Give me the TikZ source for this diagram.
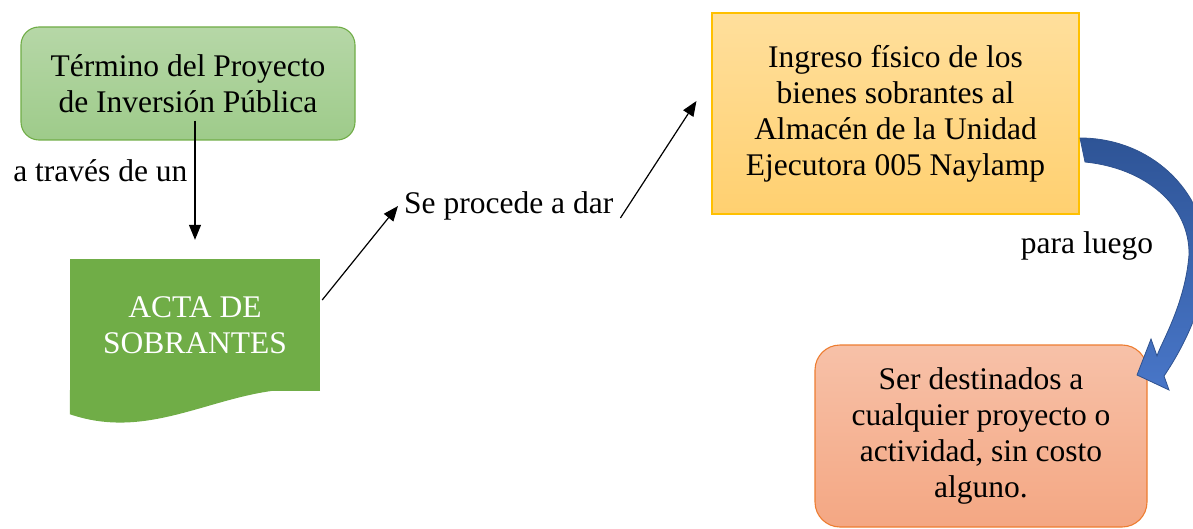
\documentclass[tikz,border=0pt]{standalone}
\usepackage{fontspec}
\setmainfont{Liberation Serif}
\usepackage{tikz}
\usetikzlibrary{arrows.meta}

\definecolor{grnA}{RGB}{182,215,167}
\definecolor{grnB}{RGB}{158,203,138}
\definecolor{grnD}{RGB}{112,173,71}
\definecolor{docgrn}{RGB}{112,173,71}
\definecolor{yelA}{RGB}{255,223,156}
\definecolor{yelB}{RGB}{255,208,112}
\definecolor{yelD}{RGB}{255,192,0}
\definecolor{salA}{RGB}{247,193,168}
\definecolor{salB}{RGB}{244,167,131}
\definecolor{salD}{RGB}{237,125,49}
\definecolor{bluA}{RGB}{46,84,150}
\definecolor{bluB}{RGB}{72,118,200}
\definecolor{bluD}{RGB}{47,82,143}

\begin{document}
\begin{tikzpicture}[x=1pt,y=-1pt]
  \tikzset{box/.style = {shape=rectangle,draw,align=center,inner sep=0pt,line width=1.1pt,font=\fontsize{31.5}{36}\selectfont}}
  \tikzset{lbl/.style = {inner sep=0pt,font=\fontsize{31.5}{36}\selectfont}}
  \tikzset{%
  tipA/.tip={Triangle[length=15pt,width=12pt]},
}
  \tikzset{edge/.style = {-tipA,line width=1.2pt}}

  \useasboundingbox (0,0) rectangle (1193,529);

	\node[box, minimum width=334pt, minimum height=113pt, rounded corners=18pt, draw=grnD, top color=grnA, bottom color=grnB] (TP) at (188,83.5) {Término del Proyecto\\de Inversión Pública};
	
	\node[lbl, text=white, fill=docgrn, align=center, minimum width=250pt, minimum height=132pt] (ACTA) at (195,325) {ACTA DE\\SOBRANTES};
	\fill[docgrn] ([yshift=1pt]ACTA.south east) .. controls +(-90,-11) and +(90,31) .. ([yshift=-23pt]ACTA.south west) -- ([yshift=1pt]ACTA.south west) -- cycle;
	
	\node[lbl, anchor=west] (dar) at (404,206) {Se procede a dar};
	
	\node[box, minimum width=367pt, minimum height=201pt, draw=yelD, top color=yelA, bottom color=yelB] (IF) at (895.5,113.5) {Ingreso físico de los\\bienes sobrantes al\\Almacén de la Unidad\\Ejecutora 005 Naylamp};
	
	\node[box, minimum width=332pt, minimum height=182pt, rounded corners=25pt, draw=salD, top color=salA, bottom color=salB] (SD) at (981,436) {Ser destinados a\\cualquier proyecto o\\actividad, sin costo\\alguno.};
	
	\node[lbl] (luego) at (1087,246) {para luego};
	
	\coordinate (TPin) at ([yshift=20pt]TP.south);
	\draw[edge] (TPin -| ACTA.north) -- ([yshift=19pt]ACTA.north) node[lbl, pos=0.42, left=7pt] (traves) {a través de un};
	\draw[edge] ([shift={(2pt,25pt)}]ACTA.east) -- ([xshift=-6pt]dar.west);
	\draw[edge] ([shift={(7pt,-12pt)}]dar.east) -- ([shift={(-15pt,12.5pt)}]IF.west);
	
	% curved block arrow
	\draw[draw=bluD, line width=0.8pt, top color=bluA, bottom color=bluB]
	  (1080,138) .. controls (1150,138) and (1205,190) .. (1207,255)
	  .. controls (1207,300) and (1185,345) .. (1164,376)
	  -- (1169,390) -- (1137,375) -- (1151,339) -- (1157,356)
	  .. controls (1160,345) and (1185,305) .. (1189,255)
	  .. controls (1190,205) and (1145,168) .. (1085,162) -- cycle;

\end{tikzpicture}
\end{document}
